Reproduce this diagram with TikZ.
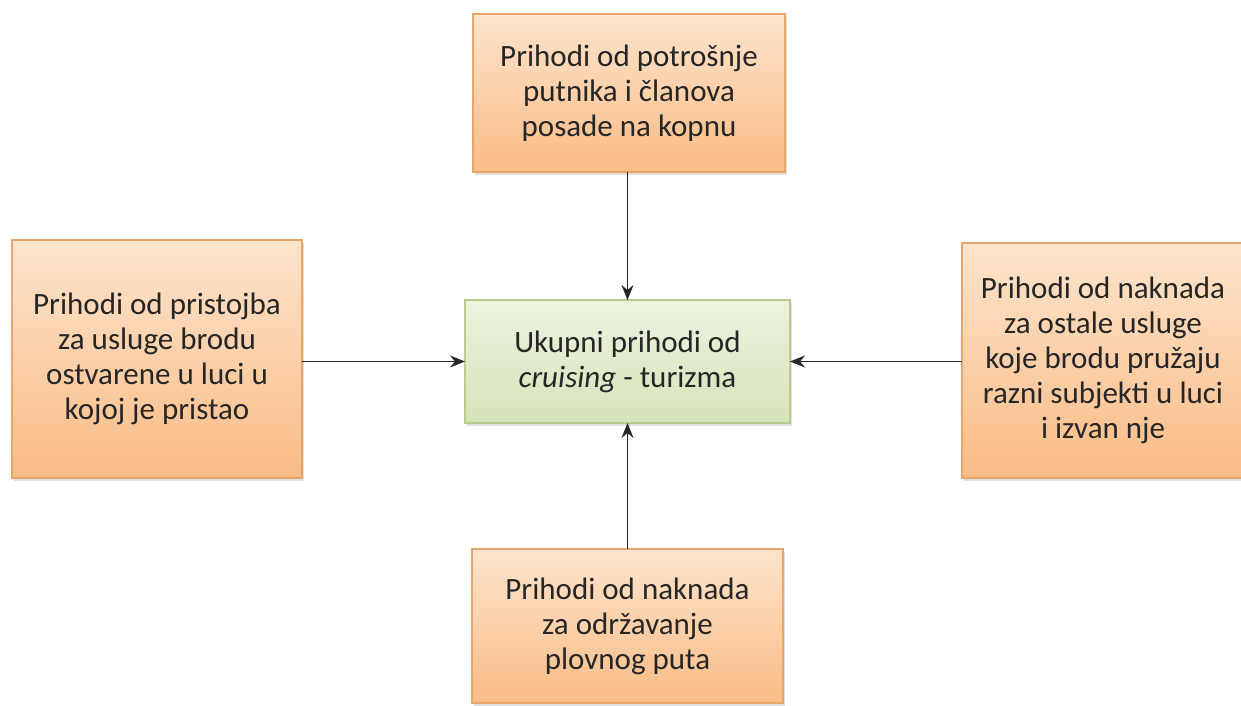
\documentclass[tikz,border=0pt]{standalone}
\usepackage{fontspec}
\setmainfont{Carlito}
\usetikzlibrary{arrows.meta,shadows}
\definecolor{cfde4cc}{RGB}{253,228,204}
\definecolor{cf9bc86}{RGB}{249,188,134}
\definecolor{ce8a66a}{RGB}{232,166,106}
\definecolor{cedf3e0}{RGB}{237,243,224}
\definecolor{cd5e3b8}{RGB}{213,227,184}
\definecolor{cb8cc8e}{RGB}{184,204,142}
\definecolor{c262626}{RGB}{38,38,38}

\begin{document}
\begin{tikzpicture}[y=-0.5pt, x=0.5pt, inner sep=0pt, outer sep=0pt,
  font=\fontsize{15.5}{17.5}\selectfont, text=c262626,
  prihodbox/.style={draw=ce8a66a, line width=0.8pt, top color=cfde4cc,
    bottom color=cf9bc86, align=center,
    drop shadow={shadow xshift=1.2pt, shadow yshift=-1.5pt, opacity=0.25}},
  ukupnobox/.style={draw=cb8cc8e, line width=0.8pt, top color=cedf3e0,
    bottom color=cd5e3b8, align=center,
    drop shadow={shadow xshift=1.2pt, shadow yshift=-1.5pt, opacity=0.25}},
  tok/.style={-{Stealth[length=7.5pt, width=6pt, inset=2.5pt]}, line width=0.9pt, black!85}]
  \useasboundingbox (0,0) rectangle (1241,706);
  % boxes
  \node[ukupnobox, minimum width=162.5pt, minimum height=61.5pt] (ukupno) at (627.5,361.5)
    {Ukupni prihodi od\\\textit{cruising} - turizma};
  \node[prihodbox, minimum width=156pt, minimum height=79pt] (potrosnja) at (629,93)
    {Prihodi od potrošnje\\putnika i članova\\posade na kopnu};
  \node[prihodbox, minimum width=145pt, minimum height=119pt] (pristojbe) at (157,359)
    {Prihodi od pristojba\\za usluge brodu\\ostvarene u luci u\\kojoj je pristao};
  \node[prihodbox, minimum width=141pt, minimum height=117.5pt] (usluge) at (1103,360.5)
    {Prihodi od naknada\\za ostale usluge\\koje brodu pružaju\\razni subjekti u luci\\i izvan nje};
  \node[prihodbox, minimum width=155.5pt, minimum height=77pt] (plovni) at (627.5,626)
    {Prihodi od naknada\\za održavanje\\plovnog puta};
  % arrows
  \draw[tok] (potrosnja.south -| ukupno.north) -- (ukupno.north);
  \draw[tok] (pristojbe.east |- ukupno.west) -- (ukupno.west);
  \draw[tok] (usluge.west |- ukupno.east) -- (ukupno.east);
  \draw[tok] (plovni.north -| ukupno.south) -- (ukupno.south);
\end{tikzpicture}
\end{document}
